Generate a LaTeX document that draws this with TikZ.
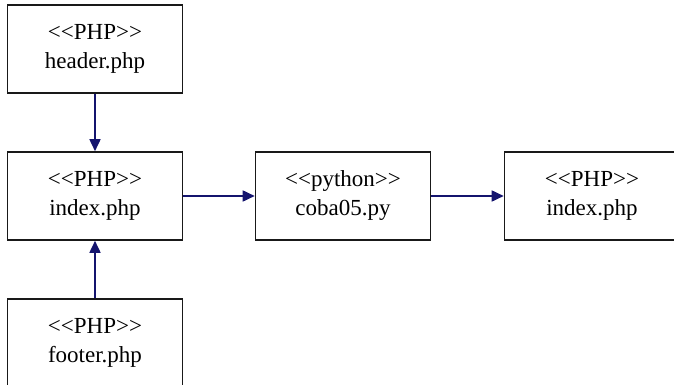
\documentclass[tikz,border=0pt]{standalone}
\usepackage{fontspec}
\setmainfont{Liberation Serif}[Ligatures=TeXOff]
\usetikzlibrary{arrows.meta}
\definecolor{linknavy}{RGB}{20,20,110}
\begin{document}
\begin{tikzpicture}[x=1pt,y=-1pt,
  box/.style={draw=black!90, line width=1.6pt, minimum width=175pt,
    minimum height=88pt, inner sep=0pt, align=center,
    font=\fontsize{23}{29}\selectfont},
  link/.style={draw=linknavy, line width=1.7pt,
    -{Triangle[length=12pt,width=11pt]}}]
\useasboundingbox (0,0) rectangle (674,385);
\clip (0,0) rectangle (674,385);
% component boxes
\node[box] (header) at (95,49)  {<<PHP>>\\header.php};
\node[box] (index)  at (95,196) {<<PHP>>\\index.php};
\node[box] (footer) at (95,343) {<<PHP>>\\footer.php};
\node[box] (coba)   at (343,196)  {<<python>>\\coba05.py};
\node[box] (out)    at (592,196)  {<<PHP>>\\index.php};
% dependencies
\draw[link] (header) -- (index);
\draw[link] (footer) -- (index);
\draw[link] (index) -- (coba);
\draw[link] (coba) -- (out);
\end{tikzpicture}
\end{document}
